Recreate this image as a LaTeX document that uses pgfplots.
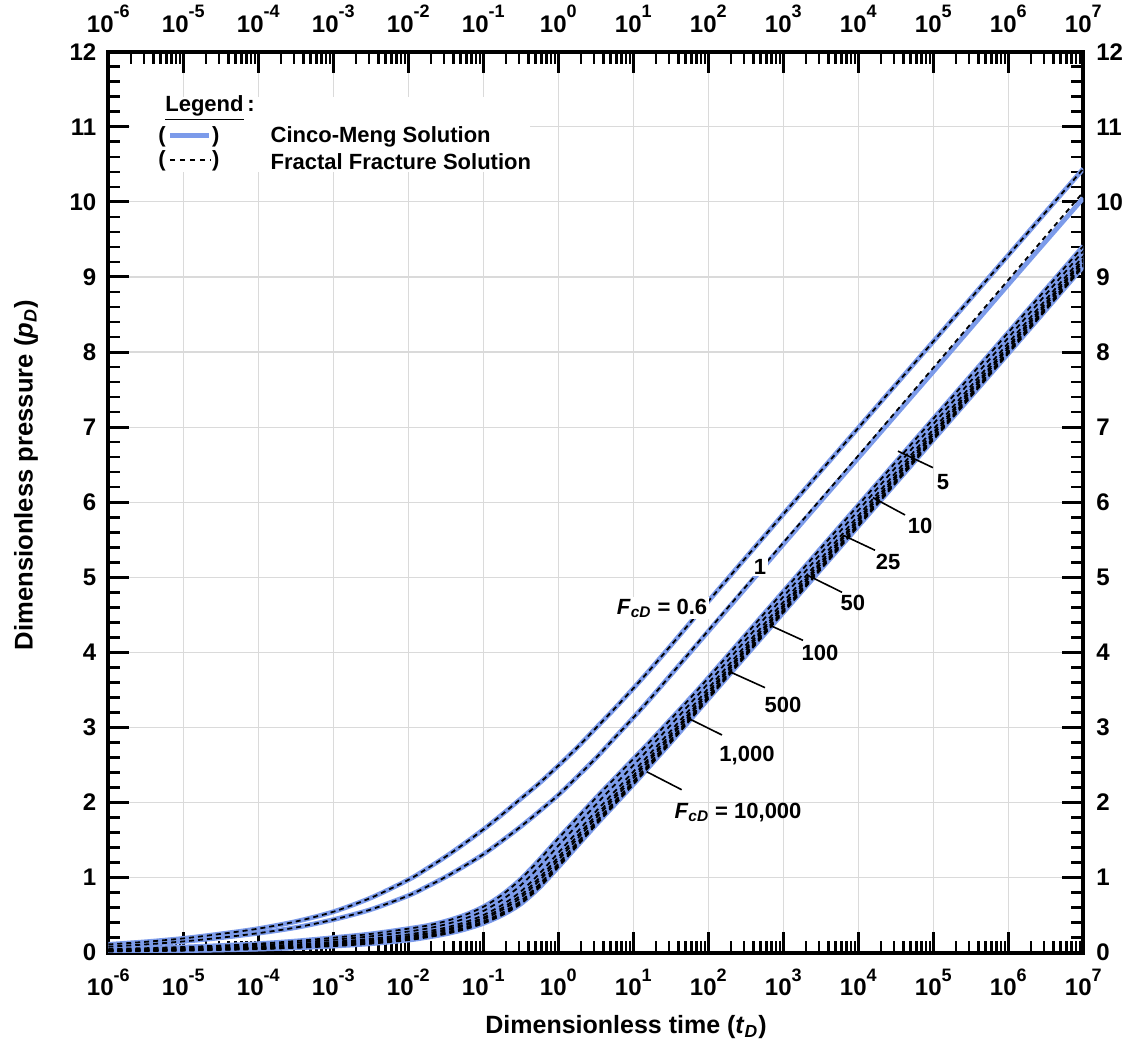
\documentclass[border=0pt]{standalone}
\usepackage{pgfplots}
\pgfplotsset{compat=1.18}
\usepackage{pgfplotstable}
\usepackage{fontspec}
\setmainfont{Liberation Sans}

\definecolor{cmblue}{RGB}{124,155,234}
\definecolor{gridgray}{RGB}{218,218,218}

% pD vs tD, Cinco-Meng (f..) and fractal fracture (d1 differs for FcD=1)
\pgfplotstableread{
t        f06   f1    d1    f5    f10   f25   f50   f100  f500  f1000 f10000
1e-6     0.11  0.08  0.08  0.05  0.042 0.034 0.029 0.025 0.021 0.019 0.017
3.162e-6 0.145 0.11  0.11  0.06  0.051 0.041 0.035 0.032 0.027 0.024 0.022
1e-5     0.19  0.15  0.15  0.075 0.063 0.052 0.044 0.040 0.034 0.031 0.028
3.162e-5 0.25  0.20  0.20  0.095 0.081 0.066 0.057 0.052 0.044 0.040 0.037
1e-4     0.32  0.26  0.26  0.12  0.102 0.084 0.073 0.066 0.057 0.052 0.048
3.162e-4 0.415 0.335 0.335 0.155 0.133 0.110 0.097 0.088 0.076 0.070 0.065
1e-3     0.545 0.44  0.44  0.20  0.172 0.144 0.127 0.116 0.101 0.095 0.088
3.162e-3 0.73  0.575 0.575 0.25  0.218 0.185 0.166 0.153 0.136 0.128 0.12
1e-2     0.97  0.76  0.76  0.32  0.282 0.244 0.221 0.206 0.186 0.177 0.168
1.778e-2 1.12  0.88  0.88  0.36  0.321 0.283 0.259 0.244 0.224 0.214 0.205
3.162e-2 1.28  1.01  1.01  0.42  0.378 0.335 0.310 0.293 0.270 0.260 0.25
5.623e-2 1.455 1.155 1.155 0.50  0.453 0.405 0.377 0.358 0.333 0.321 0.31
0.1      1.64  1.31  1.31  0.61  0.555 0.500 0.467 0.445 0.416 0.403 0.39
0.1778   1.84  1.49  1.49  0.77  0.703 0.635 0.595 0.568 0.532 0.516 0.50
0.3162   2.05  1.68  1.68  0.98  0.898 0.815 0.766 0.733 0.690 0.670 0.65
0.5623   2.26  1.885 1.885 1.24  1.148 1.055 1.000 0.963 0.914 0.892 0.87
1        2.49  2.10  2.10  1.52  1.425 1.330 1.273 1.235 1.186 1.163 1.14
1.778    2.73  2.34  2.34  1.79  1.698 1.605 1.550 1.513 1.464 1.442 1.42
3.162    2.99  2.59  2.59  2.06  1.970 1.880 1.826 1.790 1.743 1.722 1.70
5.623    3.25  2.86  2.86  2.32  2.233 2.145 2.093 2.058 2.012 1.991 1.97
10       3.52  3.13  3.13  2.58  2.495 2.410 2.359 2.325 2.281 2.260 2.24
17.78    3.80  3.41  3.41  2.84  2.760 2.680 2.632 2.600 2.558 2.539 2.52
31.62    4.09  3.70  3.70  3.11  3.033 2.955 2.909 2.878 2.837 2.819 2.80
56.23    4.385 3.99  3.995 3.38  3.308 3.235 3.192 3.163 3.125 3.107 3.09
100      4.68  4.28  4.29  3.66  3.590 3.520 3.478 3.450 3.414 3.397 3.38
1000     5.84  5.44  5.46  4.81  4.740 4.670 4.628 4.600 4.564 4.547 4.53
1e4      6.99  6.59  6.62  5.96  5.890 5.820 5.778 5.750 5.714 5.697 5.68
1e5      8.14  7.74  7.79  7.11  7.040 6.970 6.928 6.900 6.864 6.847 6.83
1e6      9.29  8.90  8.96  8.26  8.190 8.120 8.078 8.050 8.014 7.997 7.98
1e7      10.44 10.05 10.13 9.41  9.343 9.275 9.235 9.208 9.172 9.156 9.14
}\pdtable

\newcommand{\tfont}{\fontsize{11}{13}\selectfont\bfseries}
\newcommand{\kfont}{\fontsize{12}{14}\selectfont\bfseries}
\newcommand{\tl}[1]{10\raisebox{0.6em}{\fontsize{9}{10}\selectfont #1}}

\begin{document}
\begin{tikzpicture}
\begin{axis}[
  name=main,
  scale only axis, width=487.5pt, height=450.5pt,
  xmode=log, xmin=1e-6, xmax=1e7, ymin=0, ymax=12,
  xtick={1e-6,1e-5,1e-4,1e-3,1e-2,1e-1,1,10,100,1e3,1e4,1e5,1e6,1e7},
  xticklabels={\tl{-6},\tl{-5},\tl{-4},\tl{-3},\tl{-2},\tl{-1},\tl{0},\tl{1},\tl{2},\tl{3},\tl{4},\tl{5},\tl{6},\tl{7}},
  ytick={0,1,...,12},
  yticklabel={\pgfmathprintnumber[assume math mode=true]{\tick}},
  tick label style={font=\kfont},
  minor y tick num=4,
  tick align=inside, tick pos=both,
  major tick length=10.5pt, minor tick length=6pt,
  every major tick/.append style={line width=1.5pt, black},
  every minor tick/.append style={line width=1.3pt, black},
  axis line style={line width=2pt},
  xmajorgrids, ymajorgrids,
  major grid style={gridgray, line width=0.6pt},
  xticklabel style={yshift=-4.5pt},
  yticklabel style={xshift=-2.5pt},
  xlabel={\fontsize{12.5}{15}\selectfont\bfseries Dimensionless time (\textit{t}\textsubscript{\textit{D}})},
  ylabel={\fontsize{12.8}{15}\selectfont\bfseries Dimensionless pressure (\textit{p}\textsubscript{\textit{D}})},
  xlabel style={at={(axis description cs:0.531,-0.0825)}, anchor=center},
  ylabel style={at={(axis description cs:-0.0844,0.53)}, anchor=center},
]
% Cinco-Meng solution
\addplot[cmblue, line width=2.4pt, smooth] table[x=t, y=f06] {\pdtable};
\addplot[cmblue, line width=2.4pt, smooth] table[x=t, y=f1] {\pdtable};
\addplot[cmblue, line width=2.4pt, smooth] table[x=t, y=f5] {\pdtable};
\addplot[cmblue, line width=2.4pt, smooth] table[x=t, y=f10] {\pdtable};
\addplot[cmblue, line width=2.4pt, smooth] table[x=t, y=f25] {\pdtable};
\addplot[cmblue, line width=2.4pt, smooth] table[x=t, y=f50] {\pdtable};
\addplot[cmblue, line width=2.4pt, smooth] table[x=t, y=f100] {\pdtable};
\addplot[cmblue, line width=2.4pt, smooth] table[x=t, y=f500] {\pdtable};
\addplot[cmblue, line width=2.4pt, smooth] table[x=t, y=f1000] {\pdtable};
\addplot[cmblue, line width=2.4pt, smooth] table[x=t, y=f10000] {\pdtable};
% fractal fracture solution
\addplot[black, line width=0.9pt, dash pattern=on 2.5pt off 2pt, smooth] table[x=t, y=f06] {\pdtable};
\addplot[black, line width=0.9pt, dash pattern=on 2.5pt off 2pt, smooth] table[x=t, y=d1] {\pdtable};
\addplot[black, line width=0.9pt, dash pattern=on 2.5pt off 2pt, smooth] table[x=t, y=f5] {\pdtable};
\addplot[black, line width=0.9pt, dash pattern=on 2.5pt off 2pt, smooth] table[x=t, y=f10] {\pdtable};
\addplot[black, line width=0.9pt, dash pattern=on 2.5pt off 2pt, smooth] table[x=t, y=f25] {\pdtable};
\addplot[black, line width=0.9pt, dash pattern=on 2.5pt off 2pt, smooth] table[x=t, y=f50] {\pdtable};
\addplot[black, line width=0.9pt, dash pattern=on 2.5pt off 2pt, smooth] table[x=t, y=f100] {\pdtable};
\addplot[black, line width=0.9pt, dash pattern=on 2.5pt off 2pt, smooth] table[x=t, y=f500] {\pdtable};
\addplot[black, line width=0.9pt, dash pattern=on 2.5pt off 2pt, smooth] table[x=t, y=f1000] {\pdtable};
\addplot[black, line width=0.9pt, dash pattern=on 2.5pt off 2pt, smooth] table[x=t, y=f10000] {\pdtable};

% legend
\fill[white] (axis cs:1.95e-6,10.40) rectangle (axis cs:0.419,11.40);
\node[anchor=west, inner sep=0, font=\tfont] at (axis cs:5.7e-6,11.25) {\underline{Legend}\,:};
\node[anchor=west, inner sep=0, font=\tfont] at (axis cs:4.6e-6,10.87) {(};
\node[anchor=east, inner sep=0, font=\tfont] at (axis cs:3.08e-5,10.87) {)};
\draw[cmblue, line width=2.4pt] (axis cs:6.6e-6,10.88) -- (axis cs:2.2e-5,10.88);
\node[anchor=west, inner sep=0, font=\tfont] at (axis cs:1.445e-4,10.87) {Cinco-Meng Solution};
\node[anchor=west, inner sep=0, font=\tfont] at (axis cs:4.6e-6,10.54) {(};
\node[anchor=east, inner sep=0, font=\tfont] at (axis cs:3.08e-5,10.54) {)};
\draw[black, line width=0.8pt, dash pattern=on 2.5pt off 2.5pt] (axis cs:6.6e-6,10.56) -- (axis cs:2.3e-5,10.56);
\node[anchor=west, inner sep=0, font=\tfont] at (axis cs:1.445e-4,10.54) {Fractal Fracture Solution};

% curve labels
\node[font=\tfont, fill=white, inner sep=1pt] at (axis cs:24.2,4.59) {\textit{F}\textsubscript{\textit{cD}} = 0.6};
\node[font=\tfont, fill=white, inner sep=1pt] at (axis cs:489,5.14) {1};
\draw[line width=0.8pt] (axis cs:3.38e4,6.68) -- (axis cs:9.89e4,6.46);
\node[font=\tfont] at (axis cs:1.35e5,6.27) {5};
\draw[line width=0.8pt] (axis cs:1.57e4,6.06) -- (axis cs:4.20e4,5.83);
\node[font=\tfont] at (axis cs:6.65e4,5.68) {10};
\draw[line width=0.8pt] (axis cs:6.27e3,5.56) -- (axis cs:1.67e4,5.36);
\node[font=\tfont] at (axis cs:2.49e4,5.20) {25};
\draw[line width=0.8pt] (axis cs:2.07e3,5.03) -- (axis cs:6.07e3,4.80);
\node[font=\tfont] at (axis cs:8.49e3,4.66) {50};
\draw[line width=0.8pt] (axis cs:665,4.36) -- (axis cs:1.83e3,4.16);
\node[font=\tfont] at (axis cs:3.08e3,3.99) {100};
\draw[line width=0.8pt] (axis cs:195,3.74) -- (axis cs:570,3.53);
\node[font=\tfont] at (axis cs:991,3.30) {500};
\draw[line width=0.8pt] (axis cs:52.0,3.13) -- (axis cs:152,2.90);
\node[font=\tfont] at (axis cs:328,2.63) {1,000};
\draw[line width=0.8pt] (axis cs:15.1,2.41) -- (axis cs:44.2,2.17);
\node[font=\tfont] at (axis cs:249,1.87) {\textit{F}\textsubscript{\textit{cD}} = 10,000};
\end{axis}

% labels on the top and right sides
\begin{axis}[
  scale only axis, width=487.5pt, height=450.5pt,
  xmode=log, xmin=1e-6, xmax=1e7, ymin=0, ymax=12,
  xtick={1e-6,1e-5,1e-4,1e-3,1e-2,1e-1,1,10,100,1e3,1e4,1e5,1e6,1e7},
  xticklabels={\tl{-6},\tl{-5},\tl{-4},\tl{-3},\tl{-2},\tl{-1},\tl{0},\tl{1},\tl{2},\tl{3},\tl{4},\tl{5},\tl{6},\tl{7}},
  ytick={0,1,...,12},
  yticklabel={\pgfmathprintnumber[assume math mode=true]{\tick}},
  tick label style={font=\kfont},
  xticklabel pos=upper, yticklabel pos=right,
  axis line style={draw=none},
  major tick length=0pt, minor tick length=0pt,
  tick style={draw=none},
  xticklabel style={yshift=6pt},
  yticklabel style={xshift=3pt},
]
\end{axis}

\pgfresetboundingbox
\path ([xshift=-54.15pt,yshift=-45.15pt]main.south west) rectangle ([xshift=20.85pt,yshift=25.85pt]main.north east);
\end{tikzpicture}
\end{document}
